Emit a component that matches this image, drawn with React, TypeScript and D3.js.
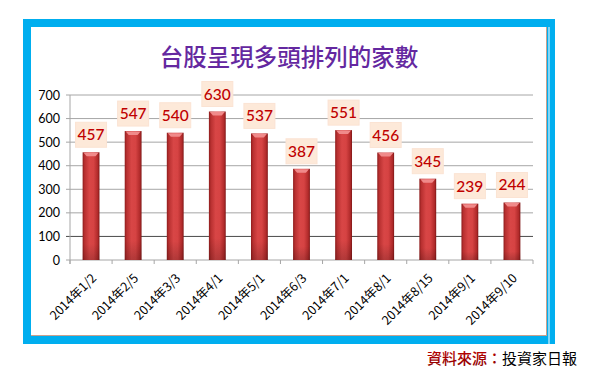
import React from "react";
import * as d3 from "d3";

const categories = ["2014年1/2", "2014年2/5", "2014年3/3", "2014年4/1", "2014年5/1", "2014年6/3", "2014年7/1", "2014年8/1", "2014年8/15", "2014年9/1", "2014年9/10"];
const values = [457, 547, 540, 630, 537, 387, 551, 456, 345, 239, 244];
const yTicks = [0, 100, 200, 300, 400, 500, 600, 700];
const title = "台股呈現多頭排列的家數";
const sourceLabel = "資料來源：";
const sourceName = "投資家日報";

export default function App() {
  const W = 600, H = 378;
  const x0 = 70, x1 = 533, yTop = 95, yBot = 260;
  const x = d3.scaleBand<string>().domain(categories).range([x0, x1]).paddingInner(0.6).paddingOuter(0.3);
  const xb = d3.scaleBand<string>().domain(categories).range([x0, x1]);
  const y = d3.scaleLinear().domain([0, 700]).range([yBot, yTop]);
  const cjk = "'Noto Sans CJK TC', 'Noto Sans CJK SC', sans-serif";
  const num = "Lato, 'Open Sans', sans-serif";
  return (
    <svg width={W} height={H} style={{ position: "absolute", left: 0, top: 0 }}>
      <defs>
        <linearGradient id="barG" x1="0" x2="1" y1="0" y2="0">
          <stop offset="0" stopColor="#8e1c1c" />
          <stop offset="0.12" stopColor="#b83030" />
          <stop offset="0.4" stopColor="#d84646" />
          <stop offset="0.65" stopColor="#d64343" />
          <stop offset="0.9" stopColor="#b02a2a" />
          <stop offset="1" stopColor="#7e1616" />
        </linearGradient>
        <linearGradient id="barV" x1="0" x2="0" y1="0" y2="1">
          <stop offset="0" stopColor="#000" stopOpacity="0" />
          <stop offset="0.85" stopColor="#000" stopOpacity="0" />
          <stop offset="1" stopColor="#000" stopOpacity="0.18" />
        </linearGradient>
        <linearGradient id="srcG" x1="0" x2="0" y1="0" y2="1">
          <stop offset="0" stopColor="#c00000" />
          <stop offset="1" stopColor="#8b0000" />
        </linearGradient>
      </defs>
      <rect x={0} y={0} width={W} height={H} fill="#fff" />
      {/* frame */}
      <rect x={23} y={19} width={532} height={325} fill="#00aeef" />
      <rect x={31} y={27} width={516} height={309} fill="#c9a08e" />
      <rect x={31} y={27} width={515} height={308} fill="#fff" />
      <line x1={549} x2={549} y1={27} y2={344} stroke="#fff" strokeWidth={1} />
      {/* title */}
      <text x={289} y={66} textAnchor="middle" fontFamily={cjk} fontSize={23.5} fontWeight={500} fill="#6428a0">{title}</text>
      {/* gridlines */}
      {yTicks.map((t) => (
        <g key={t}>
          <line x1={x0 - 4} x2={x1} y1={y(t)} y2={y(t)} stroke={t === 100 ? "#4a4a4a" : "#a6a6a6"} strokeWidth={1} />
          <text x={60} y={y(t) + 4.5} textAnchor="end" fontFamily={num} fontSize={12.5} fill="#000">{t}</text>
        </g>
      ))}
      <line x1={x0} x2={x0} y1={yTop} y2={yBot + 4} stroke="#a6a6a6" />
      {categories.map((c, i) => (
        <line key={"t" + i} x1={xb(c)!} x2={xb(c)!} y1={yBot} y2={yBot + 4} stroke="#a6a6a6" />
      ))}
      <line x1={x1} x2={x1} y1={yBot} y2={yBot + 4} stroke="#a6a6a6" />
      {/* bars */}
      {categories.map((c, i) => {
        const bx = x(c)!, bw = x.bandwidth(), top = y(values[i]);
        const cx = bx + bw / 2;
        return (
          <g key={c}>
            <rect x={bx} y={top} width={bw} height={yBot - top} fill="url(#barG)" />
            <rect x={bx} y={top} width={bw} height={yBot - top} fill="url(#barV)" />
            <path d={`M${bx + 1},${top + 0.5} L${bx + bw - 1},${top + 0.5} L${bx + bw - 4},${top + 4} L${bx + 4},${top + 4} Z`} fill="#f08a8a" />
            <rect x={cx - 15.5} y={top - 30} width={31} height={25} fill="#fde9d9" stroke="#fbe3d3" />
            <text x={cx} y={top - 12} textAnchor="middle" fontFamily={num} fontSize={15.5} fontWeight={500} fill="#c00000">{values[i]}</text>
            <text transform={`translate(${cx + 6},${yBot + 19}) rotate(-45)`} textAnchor="end" fontFamily={cjk} fontSize={12.5} fill="#000">{c}</text>
          </g>
        );
      })}
      {/* source */}
      <text x={427} y={364} fontFamily={cjk} fontSize={15}>
        <tspan fill="url(#srcG)" fontWeight={500}>{sourceLabel}</tspan>
        <tspan fill="#000">{sourceName}</tspan>
      </text>
    </svg>
  );
}
